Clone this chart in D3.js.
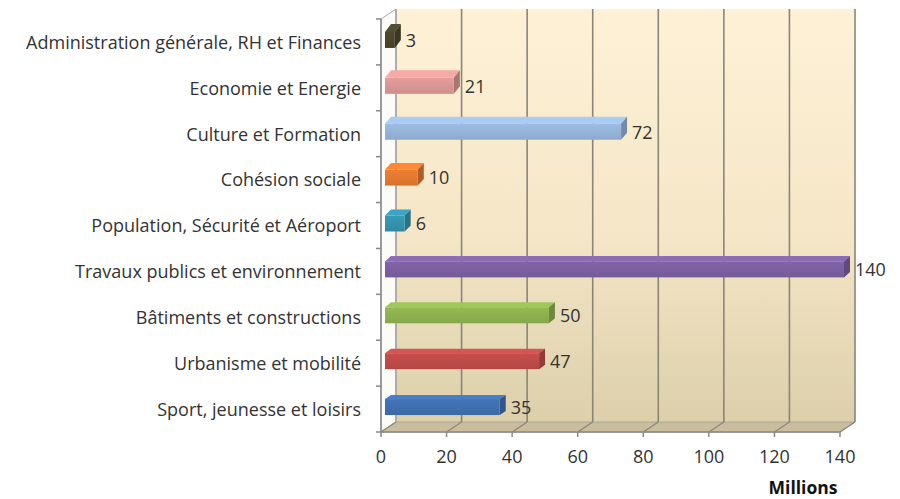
<!DOCTYPE html>
<html>
<head>
<meta charset="utf-8">
<script src="https://cdn.jsdelivr.net/npm/d3@7"></script>
<style>
  body { margin: 0; background: #fff; }
  text { font-family: "Open Sans", sans-serif; fill: #333; }
</style>
</head>
<body>
<div id="chart"></div>
<script>
// data, top to bottom
const categories = [
  'Administration générale, RH et Finances',
  'Economie et Energie',
  'Culture et Formation',
  'Cohésion sociale',
  'Population, Sécurité et Aéroport',
  'Travaux publics et environnement',
  'Bâtiments et constructions',
  'Urbanisme et mobilité',
  'Sport, jeunesse et loisirs',
];
const values = [3, 21, 72, 10, 6, 140, 50, 47, 35];
const barColors = ['#4a452a', '#d99694', '#95b3d7', '#e3782f', '#3592ad', '#7b5fa0', '#8db04f', '#be4b48', '#3f6faf'];
const xTicks = [0, 20, 40, 60, 80, 100, 120, 140];
const unitLabel = 'Millions';

const width = 900;
const height = 499;
const depth = { dx: 15, dy: -10 };

const svg = d3.select('#chart')
  .append('svg')
  .attr('width', width)
  .attr('height', height);

const x = d3.scaleLinear().domain([0, 140]).range([381, 840]);
const y = d3.scaleBand().domain(categories).range([19, 432]).paddingInner(0);

const floorY = y.range()[1];
const topY = y.range()[0];
const back = (px, py) => [px + depth.dx, py + depth.dy];

const defs = svg.append('defs');
const wallGrad = defs.append('linearGradient')
  .attr('id', 'wall')
  .attr('x1', 0).attr('y1', 0).attr('x2', 0).attr('y2', 1);
wallGrad.append('stop').attr('offset', '0%').attr('stop-color', '#fff1d6');
wallGrad.append('stop').attr('offset', '55%').attr('stop-color', '#f4e6c6');
wallGrad.append('stop').attr('offset', '100%').attr('stop-color', '#dccfaa');

barColors.forEach((c, i) => {
  const g = defs.append('linearGradient')
    .attr('id', `bar-${i}`)
    .attr('x1', 0).attr('y1', 0).attr('x2', 0).attr('y2', 1);
  g.append('stop').attr('offset', '0%').attr('stop-color', d3.color(c).brighter(0.15));
  g.append('stop').attr('offset', '100%').attr('stop-color', d3.color(c).darker(0.15));
});

// walls
const [bx0, by0] = back(x(0), topY);
const [bx1] = back(x(140), topY);
const [, byF] = back(x(0), floorY);

svg.append('rect')
  .attr('x', bx0)
  .attr('y', by0)
  .attr('width', bx1 - bx0)
  .attr('height', byF - by0)
  .attr('fill', 'url(#wall)');

// left side wall
svg.append('path')
  .attr('d', `M${x(0)},${topY}L${bx0},${by0}L${bx0},${byF}L${x(0)},${floorY}Z`)
  .attr('fill', '#fbfbf8')
  .attr('stroke', '#a6a6a6')
  .attr('stroke-width', 1);

// floor
svg.append('path')
  .attr('d', `M${x(0)},${floorY}L${bx0},${byF}L${bx1},${byF}L${x(140)},${floorY}Z`)
  .attr('fill', '#c9bd9b')
  .attr('stroke', '#a6a6a6')
  .attr('stroke-width', 1);

// gridlines on back wall and floor
const grid = svg.append('g').attr('class', 'grid');
grid.selectAll('.gl-back')
  .data(xTicks)
  .join('line')
  .attr('class', 'gl-back')
  .attr('x1', (d) => back(x(d), 0)[0])
  .attr('x2', (d) => back(x(d), 0)[0])
  .attr('y1', by0)
  .attr('y2', byF)
  .attr('stroke', (d) => (d === 0 ? '#a6a6a6' : '#8a857b'))
  .attr('stroke-width', 1.6);

grid.selectAll('.gl-floor')
  .data(xTicks)
  .join('line')
  .attr('class', 'gl-floor')
  .attr('x1', (d) => x(d))
  .attr('y1', floorY)
  .attr('x2', (d) => back(x(d), floorY)[0])
  .attr('y2', byF)
  .attr('stroke', '#8a857b')
  .attr('stroke-width', 1.2);

// axes
const xAxis = svg.append('g');
xAxis.append('line')
  .attr('x1', x(0)).attr('x2', x(140))
  .attr('y1', floorY).attr('y2', floorY)
  .attr('stroke', '#888').attr('stroke-width', 1.5);
xAxis.selectAll('.tick')
  .data(xTicks)
  .join('g')
  .attr('class', 'tick')
  .call((g) => g.append('line')
    .attr('x1', (d) => x(d)).attr('x2', (d) => x(d))
    .attr('y1', floorY).attr('y2', floorY + 5)
    .attr('stroke', '#888').attr('stroke-width', 1.5))
  .call((g) => g.append('text')
    .attr('x', (d) => x(d))
    .attr('y', 458)
    .attr('text-anchor', 'middle')
    .attr('dominant-baseline', 'middle')
    .attr('font-size', 18)
    .text((d) => d));

xAxis.append('text')
  .attr('x', 803)
  .attr('y', 489)
  .attr('text-anchor', 'middle')
  .attr('dominant-baseline', 'middle')
  .attr('font-size', 17.5)
  .attr('font-weight', 'bold')
  .style('fill', '#111')
  .text(unitLabel);

const yAxis = svg.append('g');
yAxis.append('line')
  .attr('x1', x(0)).attr('x2', x(0))
  .attr('y1', topY).attr('y2', floorY)
  .attr('stroke', '#888').attr('stroke-width', 1.5);
yAxis.selectAll('.ytick')
  .data([...categories.map((c) => y(c)), floorY])
  .join('line')
  .attr('class', 'ytick')
  .attr('x1', x(0) - 5).attr('x2', x(0))
  .attr('y1', (d) => d).attr('y2', (d) => d)
  .attr('stroke', '#888').attr('stroke-width', 1.5);
yAxis.selectAll('.ylabel')
  .data(categories)
  .join('text')
  .attr('class', 'ylabel')
  .attr('x', 361)
  .attr('y', (d) => y(d) + y.bandwidth() / 2 + 2)
  .attr('text-anchor', 'end')
  .attr('dominant-baseline', 'middle')
  .attr('font-size', 18)
  .text((d) => d);

// 3d bars
const barH = 16;
const shift = 4;
const bars = svg.append('g')
  .selectAll('g')
  .data(categories.map((c, i) => ({ cat: c, value: values[i], i })))
  .join('g');

const geo = (d) => {
  const x0 = x(0) + shift;
  const x1 = x(d.value) + shift;
  const y0 = y(d.cat) + y.bandwidth() / 2 - 2 - barH / 2;
  const dy = -8 + 4 * d.i / (categories.length - 1);
  const dx = 6;
  return { x0, x1, y0, y1: y0 + barH, dx, dy };
};

bars.append('path')
  .attr('d', (d) => {
    const g = geo(d);
    return `M${g.x0},${g.y0}L${g.x0 + g.dx},${g.y0 + g.dy}L${g.x1 + g.dx},${g.y0 + g.dy}L${g.x1},${g.y0}Z`;
  })
  .attr('fill', (d) => d3.color(barColors[d.i]).brighter(0.35));

bars.append('path')
  .attr('d', (d) => {
    const g = geo(d);
    return `M${g.x1},${g.y0}L${g.x1 + g.dx},${g.y0 + g.dy}L${g.x1 + g.dx},${g.y1 + g.dy}L${g.x1},${g.y1}Z`;
  })
  .attr('fill', (d) => d3.color(barColors[d.i]).darker(0.7));

bars.append('rect')
  .attr('x', (d) => geo(d).x0)
  .attr('y', (d) => geo(d).y0)
  .attr('width', (d) => geo(d).x1 - geo(d).x0)
  .attr('height', barH)
  .attr('fill', (d) => `url(#bar-${d.i})`);

bars.append('text')
  .attr('x', (d) => geo(d).x1 + geo(d).dx + 5)
  .attr('y', (d) => geo(d).y0 + barH / 2 + 2)
  .attr('dominant-baseline', 'middle')
  .attr('font-size', 18)
  .text((d) => d.value);
</script>
</body>
</html>
